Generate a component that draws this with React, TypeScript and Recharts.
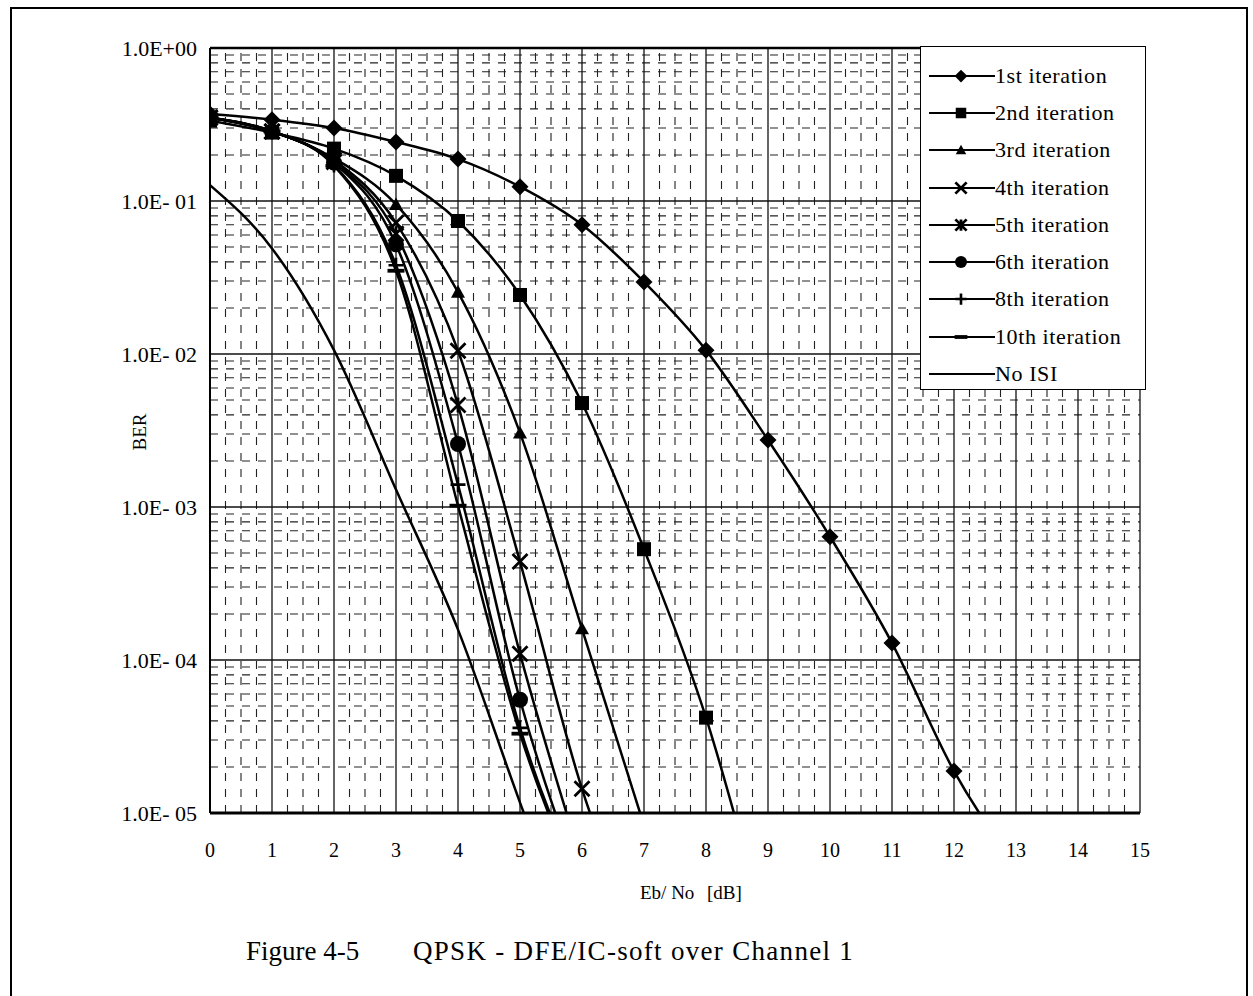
import React from 'react';
import { LineChart, Line, XAxis, YAxis, ReferenceLine, Legend } from 'recharts';

// Eb/No points in dB (values past the bottom of the axis are only there so the curves run off the plot)
const ebNo = [0, 1, 2, 3, 4, 5, 6, 7, 8, 9, 10, 11, 12, 13];
const xTicks = [0, 1, 2, 3, 4, 5, 6, 7, 8, 9, 10, 11, 12, 13, 14, 15];
const yTicks = [1, 0.1, 0.01, 0.001, 0.0001, 0.00001];
const yTickLabels = ['1.0E+00', '1.0E- 01', '1.0E- 02', '1.0E- 03', '1.0E- 04', '1.0E- 05'];

const iter1 = [0.37, 0.34, 0.3, 0.243, 0.188, 0.124, 0.07, 0.0296, 0.0106, 0.00274, 0.00064, 0.000129, 0.0000188, 0.0000045];
const iter2 = [0.335, 0.28, 0.22, 0.146, 0.074, 0.0243, 0.00478, 0.00053, 0.000042, 0.0000015];
const iter3 = [0.35, 0.285, 0.19, 0.095, 0.0254, 0.00305, 0.00016, 0.0000083];
const iter4 = [0.35, 0.285, 0.185, 0.072, 0.0105, 0.00044, 0.0000144, 0.0000013];
const iter5 = [0.35, 0.285, 0.18, 0.061, 0.00464, 0.00011, 0.0000047];
const iter6 = [0.35, 0.285, 0.178, 0.052, 0.00258, 0.000055, 0.0000032];
const iter8 = [0.35, 0.285, 0.172, 0.038, 0.0014, 0.000036, 0.0000032];
const iter10 = [0.35, 0.285, 0.17, 0.035, 0.00102, 0.000033, 0.000003];
const noIsi = [0.127, 0.049, 0.0106, 0.0013, 0.000158, 0.0000117, 0.000001];

type Kind = 'diamond' | 'square' | 'triangle' | 'x' | 'star' | 'circle' | 'plus' | 'dash' | 'none';

const series: { key: string; name: string; values: number[]; kind: Kind }[] = [
  { key: 'it1', name: '1st iteration', values: iter1, kind: 'diamond' },
  { key: 'it2', name: '2nd iteration', values: iter2, kind: 'square' },
  { key: 'it3', name: '3rd iteration', values: iter3, kind: 'triangle' },
  { key: 'it4', name: '4th iteration', values: iter4, kind: 'x' },
  { key: 'it5', name: '5th iteration', values: iter5, kind: 'star' },
  { key: 'it6', name: '6th iteration', values: iter6, kind: 'circle' },
  { key: 'it8', name: '8th iteration', values: iter8, kind: 'plus' },
  { key: 'it10', name: '10th iteration', values: iter10, kind: 'dash' },
  { key: 'noisi', name: 'No ISI', values: noIsi, kind: 'none' },
];

const data = ebNo.map((x, i) => {
  const row: any = { x };
  series.forEach((s) => {
    row[s.key] = s.values[i] ?? null;
  });
  return row;
});

// grid helpers
const minorX: number[] = [];
for (let u = 0; u < 15; u++) [0.25, 0.5, 0.75].forEach((q) => minorX.push(u + q));
const majorX = xTicks.slice(1);
const minorY: number[] = [];
yTicks.slice(1).forEach((d) => [2, 3, 4, 5, 6, 7, 8, 9].forEach((m) => minorY.push(m * d)));

const serif = "'Liberation Serif', 'Times New Roman', serif";

function marker(kind: Kind, cx: number, cy: number, s = 1) {
  const k = '#000';
  switch (kind) {
    case 'diamond': {
      const r = 8.5 * s;
      return <path d={`M${cx},${cy - r}L${cx + r},${cy}L${cx},${cy + r}L${cx - r},${cy}Z`} fill={k} />;
    }
    case 'square': {
      const r = 7 * s;
      return <rect x={cx - r} y={cy - r} width={2 * r} height={2 * r} fill={k} />;
    }
    case 'triangle': {
      const r = 7 * s;
      return <path d={`M${cx},${cy - r}L${cx + r},${cy + r * 0.8}L${cx - r},${cy + r * 0.8}Z`} fill={k} />;
    }
    case 'x': {
      const r = 7.5 * s;
      return <path d={`M${cx - r},${cy - r}L${cx + r},${cy + r}M${cx + r},${cy - r}L${cx - r},${cy + r}`} stroke={k} strokeWidth={2.8} />;
    }
    case 'star': {
      const r = 7.5 * s;
      return (
        <path
          d={`M${cx - r},${cy - r}L${cx + r},${cy + r}M${cx + r},${cy - r}L${cx - r},${cy + r}M${cx},${cy - r}L${cx},${cy + r}`}
          stroke={k}
          strokeWidth={2.8}
        />
      );
    }
    case 'circle':
      return <circle cx={cx} cy={cy} r={8 * s} fill={k} />;
    case 'plus': {
      const r = 7.5 * s;
      return <path d={`M${cx - r},${cy}L${cx + r},${cy}M${cx},${cy - r}L${cx},${cy + r}`} stroke={k} strokeWidth={2.6} />;
    }
    case 'dash': {
      const r = 8.5 * s;
      return <path d={`M${cx - r},${cy}L${cx + r},${cy}`} stroke={k} strokeWidth={3.8} />;
    }
    default:
      return null;
  }
}

const dotFor = (kind: Kind) => (p: any) => {
  if (kind === 'none' || p.value == null || p.value < 1e-5 || p.cx == null || p.cy == null) {
    return <g key={p.index} />;
  }
  return <g key={p.index}>{marker(kind, p.cx, p.cy)}</g>;
};

const LegendBox = () => (
  <div
    style={{
      width: 226,
      height: 344,
      boxSizing: 'border-box',
      border: '1.5px solid #000',
      background: '#fff',
      paddingTop: 10,
    }}
  >
    {series.map((s) => (
      <div key={s.key} style={{ display: 'flex', alignItems: 'center', height: 37.3 }}>
        <svg width={66} height={24} style={{ marginLeft: 8 }}>
          <line x1={0} y1={12} x2={66} y2={12} stroke="#000" strokeWidth={2.2} />
          {marker(s.kind, 32, 12, 0.75)}
        </svg>
        <span style={{ marginLeft: 0, lineHeight: 1, fontFamily: serif, fontSize: 22, letterSpacing: 0.6, color: '#000' }}>
          {s.name}
        </span>
      </div>
    ))}
  </div>
);

export default function App() {
  return (
    <div style={{ position: 'absolute', left: 0, top: 0, width: 1253, height: 996, background: '#fff', overflow: 'hidden' }}>
      <div
        style={{
          position: 'absolute',
          left: 10,
          top: 7,
          width: 1238,
          height: 1010,
          border: '2px solid #000',
          boxSizing: 'border-box',
        }}
      />
      <div style={{ position: 'absolute', left: 0, top: 0 }}>
        <LineChart width={1253} height={960} data={data} margin={{ top: 48, right: 113, bottom: 107, left: 20 }}>
          {minorX.map((v) => (
            <ReferenceLine key={'mx' + v} x={v} stroke="#222" strokeWidth={1.1} strokeDasharray="8 8" />
          ))}
          {minorY.map((v) => (
            <ReferenceLine key={'my' + v} y={v} stroke="#222" strokeWidth={1.1} strokeDasharray="8 8" />
          ))}
          {majorX.map((v) => (
            <ReferenceLine key={'gx' + v} x={v} stroke="#111" strokeWidth={1.3} />
          ))}
          {yTicks.slice(1, 5).map((v) => (
            <ReferenceLine key={'gy' + v} y={v} stroke="#111" strokeWidth={1.3} />
          ))}
          <ReferenceLine y={1} stroke="#000" strokeWidth={2.5} />
          <XAxis
            dataKey="x"
            type="number"
            domain={[0, 15]}
            ticks={xTicks}
            allowDataOverflow
            height={40}
            axisLine={{ stroke: '#000', strokeWidth: 3 }}
            tickLine={false}
            tickMargin={24}
            tick={{ fill: '#000', fontSize: 20, fontFamily: serif }}
            label={{
              content: () => (
                <g fontFamily={serif} fontSize={19} fill="#000">
                  <text x={640} y={899}>Eb/ No</text>
                  <text x={707} y={899}>[dB]</text>
                </g>
              ),
            }}
          />
          <YAxis
            type="number"
            scale="log"
            domain={[0.00001, 1]}
            ticks={yTicks}
            allowDataOverflow
            width={190}
            axisLine={{ stroke: '#000', strokeWidth: 2 }}
            tickLine={false}
            tickMargin={7}
            tickFormatter={(v: number) => yTickLabels[yTicks.findIndex((t) => Math.abs(t - v) / t < 1e-6)] ?? ''}
            tick={{ fill: '#000', fontSize: 22, fontFamily: serif }}
            label={{
              content: () => (
                <text
                  x={146}
                  y={432}
                  transform="rotate(-90 146 432)"
                  textAnchor="middle"
                  fontFamily={serif}
                  fontSize={19}
                  fill="#000"
                >
                  BER
                </text>
              ),
            }}
          />
          {series.map((s) => (
            <Line
              key={s.key}
              dataKey={s.key}
              name={s.name}
              type="monotone"
              stroke="#000"
              strokeWidth={2.5}
              dot={dotFor(s.kind)}
              activeDot={false}
              isAnimationActive={false}
            />
          ))}
          <Legend
            layout="vertical"
            align="center"
            verticalAlign="middle"
            content={() => <LegendBox />}
            wrapperStyle={{ left: 920, top: 46, width: 226, height: 344 }}
          />
        </LineChart>
      </div>
      <div
        style={{
          position: 'absolute',
          left: 246,
          top: 936,
          fontFamily: serif,
          fontSize: 27,
          color: '#000',
          whiteSpace: 'pre',
        }}
      >
        <span>Figure 4-5</span>
        <span style={{ position: 'absolute', left: 167, letterSpacing: 1.3 }}>QPSK - DFE/IC-soft over Channel 1</span>
      </div>
    </div>
  );
}
